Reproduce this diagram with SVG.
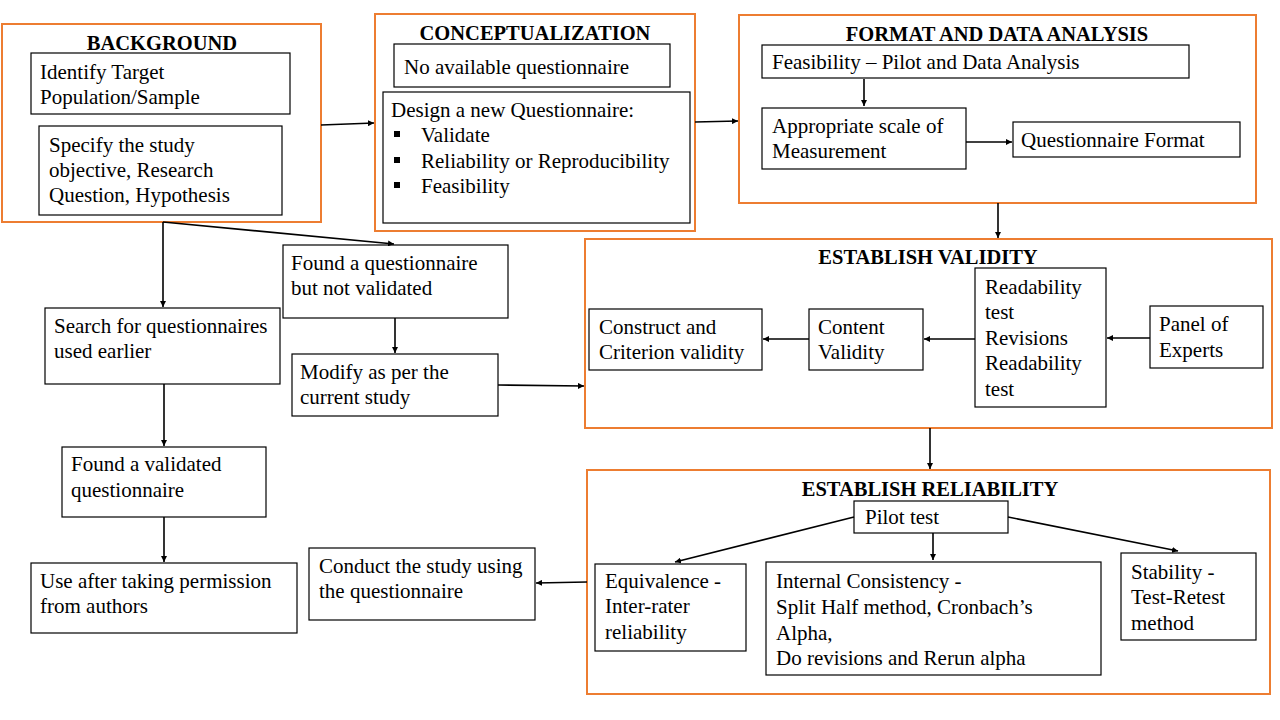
<svg xmlns="http://www.w3.org/2000/svg" width="1280" height="720" viewBox="0 0 1280 720">
<defs>
<marker id="ah" viewBox="0 0 10 10" refX="10" refY="5" markerWidth="6" markerHeight="6" orient="auto" markerUnits="userSpaceOnUse"><path d="M0,0 L10,5 L0,10 z" fill="#000"/></marker>
<style>
.grp{fill:#fff;stroke:#ED7D31;stroke-width:2}
.box{fill:#fff;stroke:#000;stroke-width:1.2}
.t{font-family:"Liberation Serif","Times New Roman",serif;font-size:21px;fill:#000}
.h{font-family:"Liberation Serif","Times New Roman",serif;font-size:20.5px;font-weight:bold;fill:#000;text-anchor:middle}
.c{stroke:#000;stroke-width:1.6;fill:none;marker-end:url(#ah)}
</style>
</defs>
<rect width="1280" height="720" fill="#fff"/>

<g id="background">
<rect class="grp" x="2" y="24" width="319" height="198"/>
<text class="h" x="162" y="50">BACKGROUND</text>
<rect class="box" x="31" y="53" width="259" height="61"/>
<text class="t" x="40" y="79">Identify  Target</text>
<text class="t" x="40" y="104">Population/Sample</text>
<rect class="box" x="39" y="126" width="243" height="89"/>
<text class="t" x="49" y="152">Specify  the study</text>
<text class="t" x="49" y="177">objective,  Research</text>
<text class="t" x="49" y="202">Question, Hypothesis</text>
</g>

<g id="conceptualization">
<rect class="grp" x="375" y="14" width="320" height="217"/>
<text class="h" x="535" y="40">CONCEPTUALIZATION</text>
<rect class="box" x="394" y="44" width="276" height="43"/>
<text class="t" x="404" y="74">No available  questionnaire</text>
<rect class="box" x="383" y="92" width="307" height="131"/>
<text class="t" x="391" y="117">Design  a new Questionnaire:</text>
<rect x="394" y="131" width="6" height="6" fill="#000"/>
<rect x="394" y="157" width="6" height="6" fill="#000"/>
<rect x="394" y="182" width="6" height="6" fill="#000"/>
<text class="t" x="421" y="142">Validate</text>
<text class="t" x="421" y="168">Reliability  or Reproducibility</text>
<text class="t" x="421" y="193">Feasibility</text>
</g>

<g id="format">
<rect class="grp" x="739" y="15" width="517" height="188"/>
<text class="h" x="997" y="41">FORMAT AND DATA ANALYSIS</text>
<rect class="box" x="762" y="45" width="427" height="33"/>
<text class="t" x="772" y="69">Feasibility  – Pilot and Data Analysis</text>
<rect class="box" x="762" y="108" width="204" height="61"/>
<text class="t" x="772" y="133">Appropriate  scale of</text>
<text class="t" x="772" y="158">Measurement</text>
<rect class="box" x="1013" y="122" width="227" height="35"/>
<text class="t" x="1021" y="147">Questionnaire  Format</text>
</g>

<g id="validity">
<rect class="grp" x="585" y="239" width="687" height="189"/>
<text class="h" x="928" y="264">ESTABLISH  VALIDITY</text>
<rect class="box" x="589" y="309" width="173" height="61"/>
<text class="t" x="599" y="334">Construct and</text>
<text class="t" x="599" y="359">Criterion validity</text>
<rect class="box" x="809" y="309" width="114" height="61"/>
<text class="t" x="818" y="334">Content</text>
<text class="t" x="818" y="359">Validity</text>
<rect class="box" x="975" y="268" width="131" height="139"/>
<text class="t" x="985" y="294">Readability</text>
<text class="t" x="985" y="319">test</text>
<text class="t" x="985" y="345">Revisions</text>
<text class="t" x="985" y="370">Readability</text>
<text class="t" x="985" y="396">test</text>
<rect class="box" x="1150" y="306" width="113" height="62"/>
<text class="t" x="1159" y="331">Panel of</text>
<text class="t" x="1159" y="357">Experts</text>
</g>

<g id="reliability">
<rect class="grp" x="587" y="470" width="683" height="224"/>
<text class="h" x="930" y="496">ESTABLISH  RELIABILITY</text>
<rect class="box" x="854" y="501" width="154" height="32"/>
<text class="t" x="865" y="524">Pilot test</text>
<rect class="box" x="595" y="564" width="151" height="87"/>
<text class="t" x="605" y="588">Equivalence  -</text>
<text class="t" x="605" y="613">Inter-rater</text>
<text class="t" x="605" y="639">reliability</text>
<rect class="box" x="766" y="562" width="335" height="113"/>
<text class="t" x="776" y="588">Internal  Consistency  -</text>
<text class="t" x="776" y="614">Split Half method, Cronbach’s</text>
<text class="t" x="776" y="640">Alpha,</text>
<text class="t" x="776" y="665">Do revisions  and Rerun alpha</text>
<rect class="box" x="1121" y="553" width="135" height="87"/>
<text class="t" x="1131" y="579">Stability  -</text>
<text class="t" x="1131" y="604">Test-Retest</text>
<text class="t" x="1131" y="630">method</text>
</g>

<g id="found-not-validated">
<rect class="box" x="283" y="245" width="225" height="73"/>
<text class="t" x="291" y="270">Found a questionnaire</text>
<text class="t" x="291" y="295">but not validated</text>
</g>
<g id="modify">
<rect class="box" x="292" y="354" width="206" height="62"/>
<text class="t" x="300" y="379">Modify  as per the</text>
<text class="t" x="300" y="404">current  study</text>
</g>
<g id="search">
<rect class="box" x="45" y="308" width="235" height="76"/>
<text class="t" x="54" y="333">Search  for questionnaires</text>
<text class="t" x="54" y="358">used earlier</text>
</g>
<g id="found-validated">
<rect class="box" x="62" y="447" width="204" height="70"/>
<text class="t" x="71" y="471">Found a validated</text>
<text class="t" x="71" y="497">questionnaire</text>
</g>
<g id="use-after">
<rect class="box" x="31" y="563" width="266" height="70"/>
<text class="t" x="40" y="588">Use after taking permission</text>
<text class="t" x="40" y="613">from authors</text>
</g>
<g id="conduct">
<rect class="box" x="309" y="548" width="226" height="72"/>
<text class="t" x="319" y="573">Conduct the study using</text>
<text class="t" x="319" y="598">the questionnaire</text>
</g>

<g id="connectors">
<line class="c" x1="321" y1="125" x2="374" y2="123"/>
<line class="c" x1="695" y1="122" x2="738" y2="121"/>
<line class="c" x1="864" y1="79" x2="864" y2="106"/>
<line class="c" x1="966" y1="142" x2="1012" y2="142"/>
<line class="c" x1="998" y1="203" x2="998" y2="238"/>
<line class="c" x1="1150" y1="338" x2="1107" y2="338"/>
<line class="c" x1="975" y1="339" x2="924" y2="339"/>
<line class="c" x1="809" y1="339" x2="763" y2="339"/>
<line class="c" x1="930" y1="428" x2="930" y2="469"/>
<line class="c" x1="854" y1="517" x2="675" y2="562"/>
<line class="c" x1="933" y1="533" x2="933" y2="560"/>
<line class="c" x1="1008" y1="517" x2="1178" y2="551"/>
<line class="c" x1="587" y1="582" x2="536" y2="583"/>
<line class="c" x1="163" y1="222" x2="163" y2="307"/>
<line class="c" x1="163" y1="222" x2="394" y2="244"/>
<line class="c" x1="395" y1="318" x2="395" y2="353"/>
<line class="c" x1="498" y1="385" x2="584" y2="386"/>
<line class="c" x1="164" y1="384" x2="164" y2="446"/>
<line class="c" x1="164" y1="517" x2="164" y2="562"/>
</g>
</svg>
